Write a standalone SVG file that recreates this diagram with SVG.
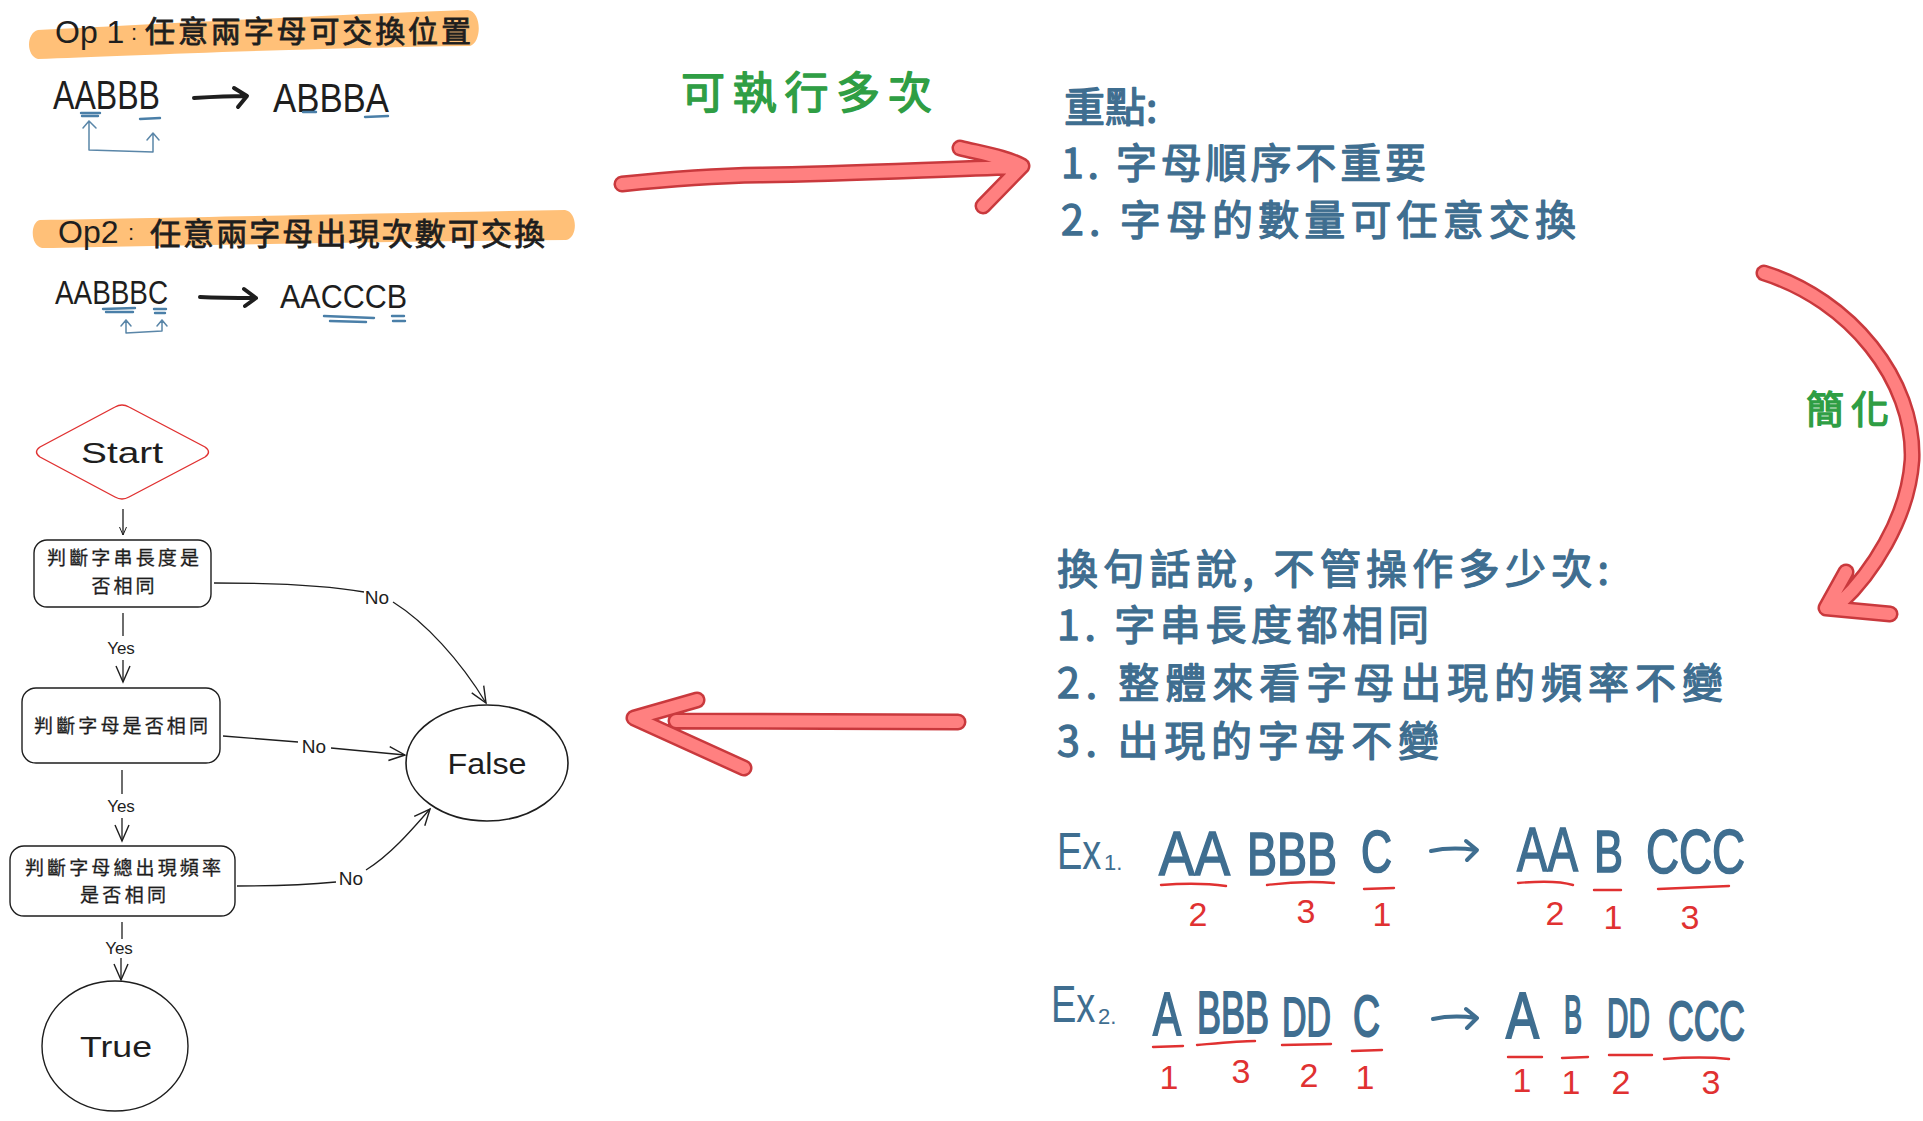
<svg xmlns="http://www.w3.org/2000/svg" width="1923" height="1121" viewBox="0 0 1923 1121">
<defs>
<style>
.hand{font-family:"Liberation Sans","DejaVu Sans",sans-serif;fill:#1e1e1e;}
.cjk{font-family:"Noto Sans CJK TC","Noto Sans CJK SC",sans-serif;}
.blk{fill:#1e1e1e;stroke:#1e1e1e;stroke-width:0.8;}
.blue{fill:#3f6e90;stroke:#3f6e90;stroke-width:1.3;stroke-linejoin:round;}
.green{fill:#2f9e44;stroke:#2f9e44;stroke-width:1.4;stroke-linejoin:round;}
.red{fill:#e03131;}
.box{fill:#fff;stroke:#1e1e1e;stroke-width:1.4;}
.node-t{font-family:"Noto Sans CJK TC","Noto Sans CJK SC",sans-serif;font-size:19px;fill:#1e1e1e;stroke:#1e1e1e;stroke-width:0.3;}
.lbl{font-family:"Liberation Sans","DejaVu Sans",sans-serif;fill:#1e1e1e;}
.conn{fill:none;stroke:#1e1e1e;stroke-width:1.3;}
.uline{fill:none;stroke:#4a7fa8;stroke-width:2.4;stroke-linecap:round;}
.bline{fill:none;stroke:#5a86a8;stroke-width:1.5;stroke-linecap:round;stroke-linejoin:round;}
.rline{fill:none;stroke:#e03131;stroke-width:2.4;stroke-linecap:round;}
.arrO{fill:none;stroke:#c9393d;stroke-width:17;stroke-linecap:round;stroke-linejoin:round;}
.arrI{fill:none;stroke:#ff8080;stroke-width:12;stroke-linecap:round;stroke-linejoin:round;}
.barrow{fill:none;stroke:#1e1e1e;stroke-width:4;stroke-linecap:round;stroke-linejoin:round;}
.exl{font-family:"Liberation Sans","DejaVu Sans",sans-serif;fill:#3f6e90;stroke:#3f6e90;stroke-width:1.2;}
.exh{font-family:"Liberation Sans","DejaVu Sans",sans-serif;fill:#3f6e90;}
</style>
<marker id="ah" viewBox="0 0 20 20" refX="18" refY="10" markerWidth="20" markerHeight="20" markerUnits="userSpaceOnUse" orient="auto">
<path d="M2,3 L18,10 L2,17" fill="none" stroke="#1e1e1e" stroke-width="1.4"/>
</marker>
<marker id="ahs" viewBox="0 0 20 20" refX="18" refY="10" markerWidth="10" markerHeight="10" markerUnits="userSpaceOnUse" orient="auto">
<path d="M2,3 L18,10 L2,17" fill="none" stroke="#1e1e1e" stroke-width="2"/>
</marker>
</defs>
<rect width="1923" height="1121" fill="#ffffff"/>

<!-- Op1 section -->
<g id="op1">
<path d="M38,30 C120,26 300,16 468,10 C482,12 482,42 470,46 C300,48 120,56 38,59 C26,56 26,33 38,30 Z" fill="#ffc078"/>
<text class="hand" font-size="32" x="55" y="32" dominant-baseline="central">Op 1<tspan x="131" font-size="22">:</tspan></text>
<text class="cjk blk" font-size="30" x="145" y="29" dominant-baseline="central" textLength="326" lengthAdjust="spacing">任意兩字母可交換位置</text>
<text class="hand" font-size="40" x="53" y="95" dominant-baseline="central" textLength="107" lengthAdjust="spacingAndGlyphs">AABBB</text>
<path class="barrow" d="M194,98 C210,97 230,96 246,96 M234,88 L247,96 L238,107"/>
<text class="hand" font-size="40" x="273" y="98" dominant-baseline="central" textLength="116" lengthAdjust="spacingAndGlyphs">ABBBA</text>
<path class="uline" d="M81,113 L100,113 M82,116 L98,116"/>
<path class="uline" d="M140,119 L160,118"/>
<path class="uline" d="M303,112 L316,112"/>
<path class="uline" d="M365,117 L388,116"/>
<path class="bline" d="M89,121 L89,150 L153,152 L153,134 M83,128 L89,121 L96,128 M147,140 L153,133 L159,140"/>
</g>

<!-- Op2 section -->
<g id="op2">
<path d="M40,220 C160,218 350,214 565,210 C578,212 578,238 566,240 C350,242 160,246 42,248 C30,246 30,222 40,220 Z" fill="#ffc078"/>
<text class="hand" font-size="32" x="58" y="232" dominant-baseline="central">Op2<tspan x="128" font-size="22">:</tspan></text>
<text class="cjk blk" font-size="31" x="150" y="231" dominant-baseline="central" textLength="395" lengthAdjust="spacing">任意兩字母出現次數可交換</text>
<text class="hand" font-size="34" x="55" y="292" dominant-baseline="central" textLength="113" lengthAdjust="spacingAndGlyphs">AABBBC</text>
<path class="barrow" d="M200,297 C220,298 240,298 256,298 M244,289 L256,298 L245,306"/>
<text class="hand" font-size="34" x="280" y="296" dominant-baseline="central" textLength="127" lengthAdjust="spacingAndGlyphs">AACCCB</text>
<path class="uline" d="M103,309 L135,308 M106,312 L133,312"/>
<path class="uline" d="M154,309 L166,309 M155,313 L165,313"/>
<path class="uline" d="M324,316 L374,318 M330,321 L366,322"/>
<path class="uline" d="M392,316 L404,316 M393,321 L405,321"/>
<path class="bline" d="M126,320 L126,333 L162,331 L162,320 M121,326 L126,320 L131,326 M157,326 L162,320 L167,326"/>
</g>

<!-- Green / blue notes -->
<g id="note-multi">
<text class="cjk green" font-size="44" x="681" y="90" dominant-baseline="central" textLength="251" lengthAdjust="spacing">可執行多次</text>
</g>
<g id="note-key">
<text class="cjk blue" font-size="41" x="1064" y="104" dominant-baseline="central">重點:</text>
<text class="cjk blue" font-size="41" x="1061" y="160" dominant-baseline="central" textLength="365" lengthAdjust="spacing">1. 字母順序不重要</text>
<text class="cjk blue" font-size="41" x="1061" y="217" dominant-baseline="central" textLength="515" lengthAdjust="spacing">2. 字母的數量可任意交換</text>
</g>
<g id="note-simplify">
<text class="cjk green" font-size="38" x="1806" y="406" dominant-baseline="central" textLength="83" lengthAdjust="spacing">簡化</text>
</g>
<g id="note-summary">
<text class="cjk blue" font-size="41" x="1057" y="566" dominant-baseline="central" textLength="552" lengthAdjust="spacing">換句話說, 不管操作多少次:</text>
<text class="cjk blue" font-size="41" x="1057" y="622" dominant-baseline="central" textLength="372" lengthAdjust="spacing">1. 字串長度都相同</text>
<text class="cjk blue" font-size="41" x="1057" y="680" dominant-baseline="central" textLength="666" lengthAdjust="spacing">2. 整體來看字母出現的頻率不變</text>
<text class="cjk blue" font-size="41" x="1057" y="738" dominant-baseline="central" textLength="382" lengthAdjust="spacing">3. 出現的字母不變</text>
</g>

<!-- Examples -->
<g id="ex1">
<text class="exh" font-size="38" transform="translate(1057,851) scale(1,1.35)" x="0" y="0" dominant-baseline="central">Ex</text>
<text class="exh" font-size="22" x="1104" y="862" dominant-baseline="central">1.</text>
<text class="exl" font-size="46" transform="translate(1159,854) scale(1,1.35)" x="0" y="0" dominant-baseline="central" textLength="71" lengthAdjust="spacingAndGlyphs">AA</text>
<text class="exl" font-size="44" transform="translate(1247,854) scale(1,1.4)" x="0" y="0" dominant-baseline="central" textLength="90" lengthAdjust="spacingAndGlyphs">BBB</text>
<text class="exl" font-size="42" transform="translate(1361,852) scale(1,1.4)" x="0" y="0" dominant-baseline="central" textLength="31" lengthAdjust="spacingAndGlyphs">C</text>
<text class="exl" font-size="46" transform="translate(1517,850) scale(1,1.35)" x="0" y="0" dominant-baseline="central" textLength="61" lengthAdjust="spacingAndGlyphs">AA</text>
<text class="exl" font-size="42" transform="translate(1594,852) scale(1,1.4)" x="0" y="0" dominant-baseline="central" textLength="29" lengthAdjust="spacingAndGlyphs">B</text>
<text class="exl" font-size="46" transform="translate(1646,852) scale(1,1.35)" x="0" y="0" dominant-baseline="central" textLength="99" lengthAdjust="spacingAndGlyphs">CCC</text>
<path d="M1431,851 C1445,848 1460,848 1476,850 M1466,841 L1477,850 L1467,860" fill="none" stroke="#3f6e90" stroke-width="4" stroke-linecap="round" stroke-linejoin="round"/>
<path class="rline" d="M1161,885 C1185,883 1205,883 1226,886 M1267,885 C1290,882 1312,881 1334,883 M1364,889 L1394,888 M1518,883 C1540,881 1560,881 1573,885 M1594,890 L1621,890 M1658,889 L1729,886"/>
<g class="red" font-family="Liberation Sans, DejaVu Sans, sans-serif" font-size="34" text-anchor="middle">
<text x="1198" y="914" dominant-baseline="central">2</text>
<text x="1306" y="911" dominant-baseline="central">3</text>
<text x="1382" y="914" dominant-baseline="central">1</text>
<text x="1555" y="913" dominant-baseline="central">2</text>
<text x="1613" y="917" dominant-baseline="central">1</text>
<text x="1690" y="917" dominant-baseline="central">3</text>
</g>
</g>
<g id="ex2">
<text class="exh" font-size="38" transform="translate(1051,1004) scale(1,1.35)" x="0" y="0" dominant-baseline="central">Ex</text>
<text class="exh" font-size="22" x="1098" y="1016" dominant-baseline="central">2.</text>
<text class="exl" font-size="38" transform="translate(1153,1014) scale(1,1.6)" x="0" y="0" dominant-baseline="central" textLength="28" lengthAdjust="spacingAndGlyphs">A</text>
<text class="exl" font-size="36" transform="translate(1197,1012) scale(1,1.65)" x="0" y="0" dominant-baseline="central" textLength="72" lengthAdjust="spacingAndGlyphs">BBB</text>
<text class="exl" font-size="36" transform="translate(1282,1016) scale(1,1.55)" x="0" y="0" dominant-baseline="central" textLength="49" lengthAdjust="spacingAndGlyphs">DD</text>
<text class="exl" font-size="36" transform="translate(1353,1016) scale(1,1.6)" x="0" y="0" dominant-baseline="central" textLength="27" lengthAdjust="spacingAndGlyphs">C</text>
<text class="exl" font-size="40" transform="translate(1506,1016) scale(1,1.6)" x="0" y="0" dominant-baseline="central" textLength="33" lengthAdjust="spacingAndGlyphs">A</text>
<text class="exl" font-size="30" transform="translate(1564,1014) scale(1,1.8)" x="0" y="0" dominant-baseline="central" textLength="18" lengthAdjust="spacingAndGlyphs">B</text>
<text class="exl" font-size="34" transform="translate(1607,1018) scale(1,1.65)" x="0" y="0" dominant-baseline="central" textLength="43" lengthAdjust="spacingAndGlyphs">DD</text>
<text class="exl" font-size="36" transform="translate(1668,1020) scale(1,1.55)" x="0" y="0" dominant-baseline="central" textLength="77" lengthAdjust="spacingAndGlyphs">CCC</text>
<path d="M1433,1019 C1447,1016 1462,1016 1476,1018 M1466,1009 L1477,1018 L1467,1028" fill="none" stroke="#3f6e90" stroke-width="4" stroke-linecap="round" stroke-linejoin="round"/>
<path class="rline" d="M1153,1047 L1183,1046 M1197,1045 C1220,1043 1240,1041 1255,1041 M1282,1045 L1331,1044 M1352,1051 L1382,1050 M1508,1057 L1542,1057 M1562,1058 L1588,1057 M1609,1055 L1652,1055 M1664,1059 C1690,1057 1710,1057 1729,1059"/>
<g class="red" font-family="Liberation Sans, DejaVu Sans, sans-serif" font-size="34" text-anchor="middle">
<text x="1169" y="1077" dominant-baseline="central">1</text>
<text x="1241" y="1071" dominant-baseline="central">3</text>
<text x="1309" y="1075" dominant-baseline="central">2</text>
<text x="1365" y="1077" dominant-baseline="central">1</text>
<text x="1522" y="1080" dominant-baseline="central">1</text>
<text x="1571" y="1082" dominant-baseline="central">1</text>
<text x="1621" y="1082" dominant-baseline="central">2</text>
<text x="1711" y="1082" dominant-baseline="central">3</text>
</g>
</g>

<!-- Big red arrows -->
<g id="red-arrows">
<path class="arrO" d="M622,184 C660,180 700,176 760,175 C840,174 920,170 1015,167 M960,148 C985,154 1008,158 1022,166 L983,206"/>
<path class="arrI" d="M622,184 C660,180 700,176 760,175 C840,174 920,170 1015,167 M960,148 C985,154 1008,158 1022,166 L983,206"/>
<path class="arrO" d="M1764,273 C1850,300 1915,380 1912,460 C1908,520 1870,575 1840,603 M1846,572 L1826,608 L1890,614"/>
<path class="arrI" d="M1764,273 C1850,300 1915,380 1912,460 C1908,520 1870,575 1840,603 M1846,572 L1826,608 L1890,614"/>
<path class="arrO" d="M958,722 L676,721 M697,700 L634,718 L744,768"/>
<path class="arrI" d="M958,722 L676,721 M697,700 L634,718 L744,768"/>
</g>

<!-- Flowchart nodes -->
<g id="start">
<path d="M115,407 Q122,403 129,407 L205,447 Q212,452 205,457 L129,497 Q122,501 115,497 L40,457 Q33,452 40,447 Z" fill="#fff" stroke="#e03131" stroke-width="1.4"/>
<text class="lbl" font-size="30" x="122" y="452" text-anchor="middle" dominant-baseline="central" textLength="82" lengthAdjust="spacingAndGlyphs">Start</text>
</g>
<g id="check-length">
<rect class="box" x="34" y="540" width="177" height="67" rx="13"/>
<text class="node-t" x="123" y="556" text-anchor="middle" dominant-baseline="central" textLength="152" lengthAdjust="spacing">判斷字串長度是</text>
<text class="node-t" x="123" y="584" text-anchor="middle" dominant-baseline="central" textLength="63" lengthAdjust="spacing">否相同</text>
</g>
<g id="check-letters">
<rect class="box" x="22" y="688" width="198" height="75" rx="14"/>
<text class="node-t" x="121" y="724" text-anchor="middle" dominant-baseline="central" textLength="174" lengthAdjust="spacing">判斷字母是否相同</text>
</g>
<g id="check-freq">
<rect class="box" x="10" y="846" width="225" height="70" rx="14"/>
<text class="node-t" x="123" y="866" text-anchor="middle" dominant-baseline="central" textLength="196" lengthAdjust="spacing">判斷字母總出現頻率</text>
<text class="node-t" x="123" y="893" text-anchor="middle" dominant-baseline="central" textLength="86" lengthAdjust="spacing">是否相同</text>
</g>
<g id="false">
<ellipse cx="487" cy="763" rx="81" ry="58" fill="#fff" stroke="#1e1e1e" stroke-width="1.6"/>
<text class="lbl" font-size="30" x="487" y="763" text-anchor="middle" dominant-baseline="central" textLength="79" lengthAdjust="spacingAndGlyphs">False</text>
</g>
<g id="true">
<ellipse cx="115" cy="1046" rx="73" ry="65" fill="#fff" stroke="#1e1e1e" stroke-width="1.4"/>
<text class="lbl" font-size="30" x="116" y="1046" text-anchor="middle" dominant-baseline="central" textLength="72" lengthAdjust="spacingAndGlyphs">True</text>
</g>

<!-- Connectors -->
<g id="connectors">
<path class="conn" d="M123,509 L123,535" marker-end="url(#ahs)"/>
<path class="conn" d="M123,613 L123,636"/>
<path class="conn" d="M123,660 L123,682" marker-end="url(#ah)"/>
<path class="conn" d="M122,770 L122,794"/>
<path class="conn" d="M122,818 L122,841" marker-end="url(#ah)"/>
<path class="conn" d="M122,922 L122,939"/>
<path class="conn" d="M121,958 L121,980" marker-end="url(#ah)"/>
<path class="conn" d="M214,583 C270,583 330,586 364,592"/>
<path class="conn" d="M393,602 C425,622 460,660 486,703" marker-end="url(#ah)"/>
<path class="conn" d="M223,736 L298,742"/>
<path class="conn" d="M331,748 L405,755" marker-end="url(#ah)"/>
<path class="conn" d="M237,886 C280,886 315,884 336,882"/>
<path class="conn" d="M366,870 C390,855 410,832 430,809" marker-end="url(#ah)"/>
<g class="lbl" text-anchor="middle">
<text font-size="17" x="121" y="648" dominant-baseline="central">Yes</text>
<text font-size="17" x="121" y="806" dominant-baseline="central">Yes</text>
<text font-size="17" x="119" y="948" dominant-baseline="central">Yes</text>
<text font-size="19" x="377" y="597" dominant-baseline="central">No</text>
<text font-size="19" x="314" y="746" dominant-baseline="central">No</text>
<text font-size="19" x="351" y="878" dominant-baseline="central">No</text>
</g>
</g>
</svg>
